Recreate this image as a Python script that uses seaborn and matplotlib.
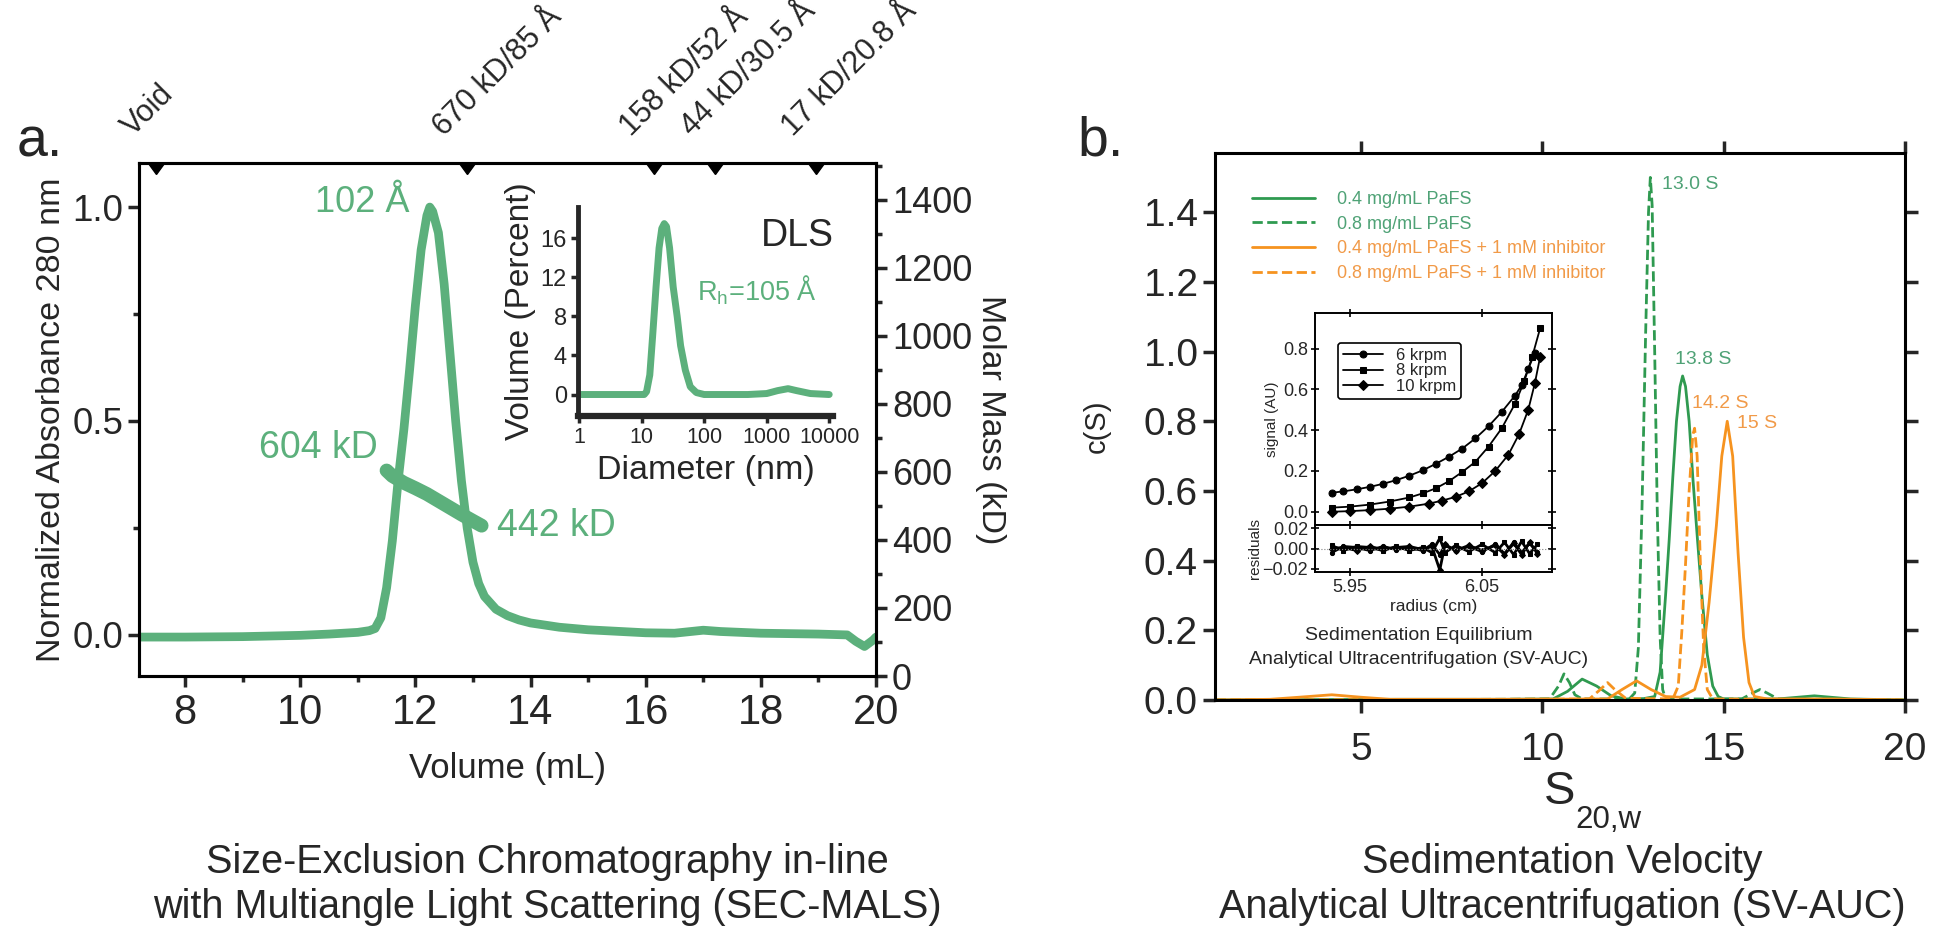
import numpy as np
import pandas as pd
import matplotlib
matplotlib.use("Agg")
import matplotlib.pyplot as plt
import seaborn as sns
from matplotlib.ticker import MultipleLocator, FixedLocator, NullFormatter

sns.set_style("ticks")
plt.rcParams["font.family"] = ["Liberation Sans", "DejaVu Sans"]
plt.rcParams["mathtext.fontset"] = "custom"
plt.rcParams["mathtext.rm"] = "Liberation Sans"
plt.rcParams["mathtext.it"] = "Liberation Sans"

# ================= Data =================
# SEC-MALS trace (volume in mL, normalized A280)
sec_volume = [7.2, 8.0, 9.0, 10.0, 10.5, 11.0, 11.2, 11.3, 11.4, 11.5, 11.6, 11.7, 11.8,
              11.9, 12.0, 12.1, 12.2, 12.25, 12.3, 12.4, 12.5, 12.6, 12.7, 12.8, 12.9,
              13.0, 13.1, 13.2, 13.4, 13.6, 13.8, 14.0, 14.5, 15.0, 16.0, 16.5, 17.0,
              17.3, 18.0, 19.0, 19.5, 19.65, 19.8, 19.95, 20.0]
sec_abs = [-0.005, -0.005, -0.004, -0.001, 0.002, 0.006, 0.01, 0.015, 0.04, 0.11, 0.22,
           0.36, 0.48, 0.62, 0.77, 0.9, 0.98, 1.0, 0.99, 0.94, 0.82, 0.66, 0.5, 0.36,
           0.25, 0.17, 0.12, 0.09, 0.06, 0.045, 0.035, 0.028, 0.018, 0.012, 0.005, 0.004,
           0.011, 0.008, 0.004, 0.002, 0.0, -0.015, -0.027, -0.012, -0.005]

# molar mass across the peak (kD)
mm_volume = [11.5, 11.6, 11.8, 12.0, 12.2, 12.4, 12.6, 12.8, 13.0, 13.15]
mm_kd = [604, 588, 568, 552, 535, 515, 495, 475, 456, 442]

# column standards
std_volume = [7.5, 12.9, 16.15, 17.2, 18.95]
std_labels = ["Void", "670 kD/85 Å", "158 kD/52 Å", "44 kD/30.5 Å", "17 kD/20.8 Å"]

# DLS distribution
dls_diam = [1, 11, 12, 13.5, 15, 17, 19, 21, 23, 25, 28, 32, 37, 42, 50, 60, 75, 100,
            500, 1000, 1500, 2200, 3000, 5000, 10000]
dls_pct = [0, 0, 0.3, 2, 6, 11, 15, 17, 17.5, 17.2, 15, 11, 8, 5, 2.5, 0.8, 0.2, 0,
           0, 0.1, 0.4, 0.6, 0.4, 0.1, 0]

# SV-AUC c(S) distributions
s_g04 = [1, 6, 9, 10.3, 10.7, 11.1, 11.5, 11.9, 12.3, 12.8, 13.1, 13.25, 13.4, 13.5,
         13.6, 13.7, 13.8, 13.87, 13.95, 14.05, 14.15, 14.28, 14.4, 14.55, 14.7, 14.85,
         15.0, 16.5, 17.5, 18.5, 20]
c_g04 = [0, 0.002, 0.002, 0.003, 0.025, 0.06, 0.04, 0.012, 0.003, 0.004, 0.01, 0.08,
         0.3, 0.46, 0.64, 0.8, 0.9, 0.93, 0.9, 0.8, 0.64, 0.46, 0.3, 0.13, 0.04, 0.01,
         0.003, 0.003, 0.012, 0.003, 0]

s_g08 = [1, 9, 10.2, 10.45, 10.6, 10.75, 10.9, 11.1, 12.4, 12.55, 12.65, 12.75, 12.85,
         12.93, 12.98, 13.03, 13.1, 13.17, 13.25, 13.32, 13.4, 15.5, 15.8, 16.0, 16.2,
         16.5, 20]
c_g08 = [0, 0.002, 0.003, 0.04, 0.075, 0.05, 0.015, 0.003, 0.003, 0.02, 0.15, 0.55,
         1.05, 1.4, 1.5, 1.42, 1.0, 0.55, 0.18, 0.03, 0.003, 0.003, 0.02, 0.03, 0.02,
         0.003, 0]

s_o04 = [1, 2.5, 3.3, 4.2, 5.0, 5.8, 9, 11.8, 12.2, 12.6, 13.0, 13.4, 13.8, 14.2, 14.4,
         14.6, 14.8, 14.95, 15.1, 15.25, 15.4, 15.55, 15.7, 15.85, 16.2, 18, 20]
c_o04 = [0, 0.002, 0.008, 0.015, 0.008, 0.002, 0.002, 0.003, 0.03, 0.055, 0.03, 0.01,
         0.008, 0.03, 0.1, 0.28, 0.5, 0.7, 0.8, 0.7, 0.42, 0.18, 0.05, 0.01, 0.003,
         0.003, 0]

s_o08 = [1, 9, 11.3, 11.6, 11.8, 12.0, 12.3, 13.6, 13.75, 13.85, 13.95, 14.05, 14.15,
         14.2, 14.27, 14.36, 14.45, 14.55, 14.7, 20]
c_o08 = [0, 0.002, 0.003, 0.03, 0.05, 0.03, 0.005, 0.003, 0.04, 0.2, 0.39, 0.6, 0.76,
         0.78, 0.7, 0.39, 0.15, 0.03, 0.003, 0]

sv_labels = ["0.4 mg/mL PaFS", "0.8 mg/mL PaFS",
             "0.4 mg/mL PaFS + 1 mM inhibitor", "0.8 mg/mL PaFS + 1 mM inhibitor"]

peak_s = [13.31, 13.67, 14.14, 15.38]
peak_c = [1.48, 0.976, 0.85, 0.795]
peak_text = ["13.0 S", "13.8 S", "14.2 S", "15 S"]

# sedimentation equilibrium (radius in cm, signal in AU)
r_6k = [5.936, 5.945, 5.955, 5.965, 5.975, 5.985, 5.995, 6.005, 6.015, 6.025, 6.035,
        6.045, 6.055, 6.065, 6.075, 6.08, 6.085, 6.09]
sig_6k = [0.093, 0.1, 0.11, 0.122, 0.137, 0.155, 0.177, 0.203, 0.235, 0.27, 0.31,
          0.36, 0.42, 0.49, 0.57, 0.62, 0.7, 0.78]
r_8k = [5.936, 5.95, 5.965, 5.98, 5.995, 6.005, 6.015, 6.025, 6.035, 6.045, 6.055,
        6.065, 6.075, 6.082, 6.088, 6.094]
sig_8k = [0.02, 0.025, 0.035, 0.05, 0.07, 0.09, 0.115, 0.15, 0.195, 0.245, 0.32,
          0.41, 0.53, 0.64, 0.76, 0.9]
r_10k = [5.936, 5.95, 5.965, 5.98, 5.995, 6.01, 6.02, 6.03, 6.04, 6.05, 6.06, 6.07,
         6.078, 6.085, 6.09, 6.094]
sig_10k = [0.0, 0.003, 0.008, 0.015, 0.025, 0.04, 0.055, 0.073, 0.1, 0.14, 0.2, 0.28,
           0.38, 0.5, 0.63, 0.76]
speed_labels = ["6 krpm", "8 krpm", "10 krpm"]

res_r = [5.936, 5.945, 5.955, 5.965, 5.975, 5.985, 5.995, 6.005, 6.012, 6.018, 6.022,
         6.03, 6.04, 6.05, 6.06, 6.067, 6.074, 6.08, 6.086, 6.092]
res_6k = [-0.004, 0.002, 0.001, -0.002, 0.002, -0.001, 0.001, -0.002, 0.004, -0.006,
          0.003, -0.002, 0.002, -0.003, 0.004, -0.005, 0.006, -0.004, 0.005, -0.003]
res_8k = [0.003, -0.002, 0.002, 0.001, -0.002, 0.002, -0.002, 0.001, -0.004, 0.01,
          -0.004, 0.003, -0.003, 0.004, -0.004, 0.006, -0.006, 0.007, -0.005, 0.004]
res_10k = [0.0, 0.001, -0.002, 0.002, -0.001, 0.001, 0.002, -0.001, 0.002, -0.021,
           0.004, -0.002, 0.003, -0.002, 0.003, -0.006, 0.005, -0.006, 0.006, -0.005]

# ================= Styles =================
W, H = 1935, 934
GREEN = "#5cb07c"
G_LINE = "#2f9a50"
G_TEXT = "#4fa276"
ORANGE = "#f6931f"
O_TEXT = "#f19a48"


def px_axes(fig, left, top, right, bottom):
    return fig.add_axes([left / W, 1 - bottom / H, (right - left) / W, (bottom - top) / H])


def px_text(fig, x, y, s, **kw):
    return fig.text(x / W, 1 - y / H, s, **kw)


def style_ax(ax, lw=2.2):
    for sp in ax.spines.values():
        sp.set_linewidth(lw)
        sp.set_color("black")


fig = plt.figure(figsize=(W / 100, H / 100), dpi=100)

# ================= Panel a: SEC-MALS =================
ax = px_axes(fig, 139, 163, 876, 676)
sns.lineplot(x=sec_volume, y=sec_abs, ax=ax, color=GREEN, lw=6.3, sort=False,
             solid_capstyle="round")
ax.set_xlim(7.2, 20.0)
ax.set_ylim(-0.096, 1.103)
style_ax(ax)
ax.xaxis.set_major_locator(MultipleLocator(2))
ax.xaxis.set_minor_locator(MultipleLocator(1))
ax.yaxis.set_major_locator(FixedLocator([0.0, 0.5, 1.0]))
ax.yaxis.set_minor_locator(FixedLocator([0.25, 0.75]))
ax.set_yticklabels(["0.0", "0.5", "1.0"])
ax.tick_params(which="major", direction="out", length=8, width=2.5, labelsize=26.5,
               top=False, right=False)
ax.tick_params(axis="x", which="major", labelsize=30, pad=4)
ax.tick_params(which="minor", direction="out", length=4, width=2.5, top=False, right=False)
ax.set_xlabel("Volume (mL)", fontsize=25, labelpad=14)
ax.set_ylabel("Normalized Absorbance 280 nm", fontsize=24.5, labelpad=4)

ax2 = ax.twinx()
sns.lineplot(x=mm_volume, y=mm_kd, ax=ax2, color=GREEN, lw=10, sort=False,
             solid_capstyle="round")
ax2.set_ylim(0, 1508)
ax2.yaxis.set_major_locator(MultipleLocator(200))
ax2.yaxis.set_minor_locator(MultipleLocator(100))
ax2.tick_params(which="major", direction="out", length=8, width=2.5, labelsize=26)
ax2.tick_params(which="minor", direction="out", length=4, width=2.5)
ax2.set_ylabel("Molar Mass (kD)", fontsize=24.5, rotation=270, labelpad=24)
style_ax(ax2)

ax.plot(std_volume, [1.0] * len(std_volume), ls="none", marker=11, ms=11, color="black",
        transform=ax.get_xaxis_transform(), clip_on=False, zorder=5)
for v, lab in zip(std_volume, std_labels):
    ax.annotate(lab, (v, 1.0), xycoords=ax.get_xaxis_transform(), xytext=(-13, 15),
                textcoords="offset points", rotation=45, rotation_mode="anchor",
                ha="left", va="bottom", fontsize=22)

ax.text(11.07, 1.01, "102 Å", color=GREEN, fontsize=26, ha="center", va="center")
ax.text(10.32, 0.437, "604 kD", color=GREEN, fontsize=27, ha="center", va="center")
ax.text(13.42, 0.255, "442 kD", color=GREEN, fontsize=27, ha="left", va="center")

# DLS inset
axd = px_axes(fig, 578, 207, 833, 416)
sns.lineplot(x=dls_diam, y=dls_pct, ax=axd, color=GREEN, lw=5, sort=False)
axd.set_xscale("log")
axd.set_xlim(0.96, 11500)
axd.set_ylim(-2.2, 19.2)
axd.patch.set_alpha(0)
for s in ["top", "right"]:
    axd.spines[s].set_visible(False)
axd.spines["left"].set_linewidth(3.5)
axd.spines["bottom"].set_linewidth(4.5)
axd.xaxis.set_major_locator(FixedLocator([1, 10, 100, 1000, 10000]))
axd.xaxis.set_minor_locator(FixedLocator([]))
axd.set_xticklabels(["1", "10", "100", "1000", "10000"])
axd.yaxis.set_major_locator(FixedLocator([0, 4, 8, 12, 16]))
axd.tick_params(direction="out", length=5, width=2.5, labelsize=17, pad=3)
axd.tick_params(axis="x", labelsize=15.5)
axd.set_xlabel("Diameter (nm)", fontsize=24.5, labelpad=5)
axd.set_ylabel("Volume (Percent)", fontsize=24, labelpad=3)
axd.text(0.86, 0.86, "DLS", transform=axd.transAxes, fontsize=27, ha="center", va="center")
axd.text(0.70, 0.60, r"R$_{\mathregular{h}}$=105 Å", transform=axd.transAxes,
         color=GREEN, fontsize=19.5, ha="center", va="center")

px_text(fig, 547, 862, "Size-Exclusion Chromatography in-line", fontsize=28.5,
        ha="center", va="center")
px_text(fig, 547, 907, "with Multiangle Light Scattering (SEC-MALS)", fontsize=28.5,
        ha="center", va="center")
px_text(fig, 17, 157, "a.", fontsize=40, ha="left", va="baseline")

# ================= Panel b: SV-AUC =================
bx = px_axes(fig, 1215, 153, 1905, 700)
series = [(s_g04, c_g04, G_LINE, "-"), (s_g08, c_g08, G_LINE, "--"),
          (s_o04, c_o04, ORANGE, "-"), (s_o08, c_o08, ORANGE, "--")]
for (sx, cy, col, ls), lab in zip(series, sv_labels):
    sns.lineplot(x=sx, y=cy, ax=bx, color=col, lw=2, linestyle=ls, sort=False, label=lab)
bx.set_xlim(0.98, 20)
bx.set_ylim(0, 1.57)
style_ax(bx)
bx.yaxis.set_major_locator(MultipleLocator(0.2))
bx.set_xticks([5, 10, 15, 20])
bx.tick_params(direction="out", length=9, width=2.5, labelsize=28, top=True, right=True)
bx.tick_params(axis="x", pad=14)
bx.set_ylabel("c(S)", fontsize=21)
bx.yaxis.set_label_coords(-0.151, 0.5)
bx.set_xlabel("")
px_text(fig, 1560, 792, "S", fontsize=34, ha="center", va="center")
px_text(fig, 1575, 820, "20,w", fontsize=22.5, ha="left", va="center")
leg = bx.legend(loc="upper left", bbox_to_anchor=(0.03, 0.96), frameon=False, fontsize=13,
                handlelength=3.5, handletextpad=1.2, labelspacing=0.42,
                labelcolor=[G_TEXT, G_TEXT, O_TEXT, O_TEXT])
peak_cols = [G_TEXT, G_TEXT, O_TEXT, O_TEXT]
for x, y, t, c in zip(peak_s, peak_c, peak_text, peak_cols):
    bx.text(x, y, t, color=c, fontsize=14, ha="left", va="center")

px_text(fig, 1562, 862, "Sedimentation Velocity", fontsize=28.5, ha="center", va="center")
px_text(fig, 1562, 907, "Analytical Ultracentrifugation (SV-AUC)", fontsize=28.5,
        ha="center", va="center")
px_text(fig, 1077, 155, "b.", fontsize=40, ha="left", va="baseline")

# SE-AUC inset
ex = px_axes(fig, 1315, 313, 1552, 525)
rx = px_axes(fig, 1315, 525, 1552, 572)
se_sets = [(r_6k, sig_6k, "o"), (r_8k, sig_8k, "s"), (r_10k, sig_10k, "D")]
for (rr, ss, mk), lab in zip(se_sets, speed_labels):
    sns.lineplot(x=rr, y=ss, ax=ex, color="black", lw=1.3, marker=mk, ms=5, sort=False,
                 label=lab, markeredgecolor="black")
res_sets = [(res_6k, "o"), (res_8k, "s"), (res_10k, "D")]
for rv, mk in res_sets:
    sns.lineplot(x=res_r, y=rv, ax=rx, color="black", lw=2, marker=mk, ms=3, sort=False,
                 markeredgecolor="black")
rx.axhline(0, color="gray", lw=0.8, ls=":")
for a in (ex, rx):
    a.set_xlim(5.9235, 6.103)
    style_ax(a, lw=1.4)
    a.xaxis.set_major_locator(FixedLocator([5.95, 6.05]))
    a.tick_params(direction="inout", length=6, width=1.4, labelsize=13, top=True,
                  right=True, pad=2)
ex.set_ylim(-0.065, 0.975)
ex.yaxis.set_major_locator(FixedLocator([0.0, 0.2, 0.4, 0.6, 0.8]))
ex.set_yticklabels(["0.0", "0.2", "0.4", "0.6", "0.8"])
ex.xaxis.set_major_formatter(NullFormatter())
ex.set_ylabel("signal (AU)", fontsize=11, labelpad=3)
rx.set_ylim(-0.023, 0.023)
rx.yaxis.set_major_locator(FixedLocator([-0.02, 0.0, 0.02]))
rx.set_yticklabels(["\u22120.02", "0.00", "0.02"])
rx.set_xticklabels(["5.95", "6.05"])
rx.set_ylabel("residuals", fontsize=11, labelpad=0)
rx.set_xlabel("radius (cm)", fontsize=12.5, labelpad=2)
ex.legend(loc="upper left", bbox_to_anchor=(0.06, 0.9), fontsize=12, handlelength=2.4,
          labelspacing=0.05, borderpad=0.3, frameon=True, edgecolor="black", fancybox=True,
          framealpha=1)
ex.get_legend().get_frame().set_linewidth(1.2)
px_text(fig, 1419, 636, "Sedimentation Equilibrium", fontsize=14, ha="center", va="center")
px_text(fig, 1419, 660, "Analytical Ultracentrifugation (SV-AUC)", fontsize=14,
        ha="center", va="center")

fig.savefig("out.png", dpi=100)
